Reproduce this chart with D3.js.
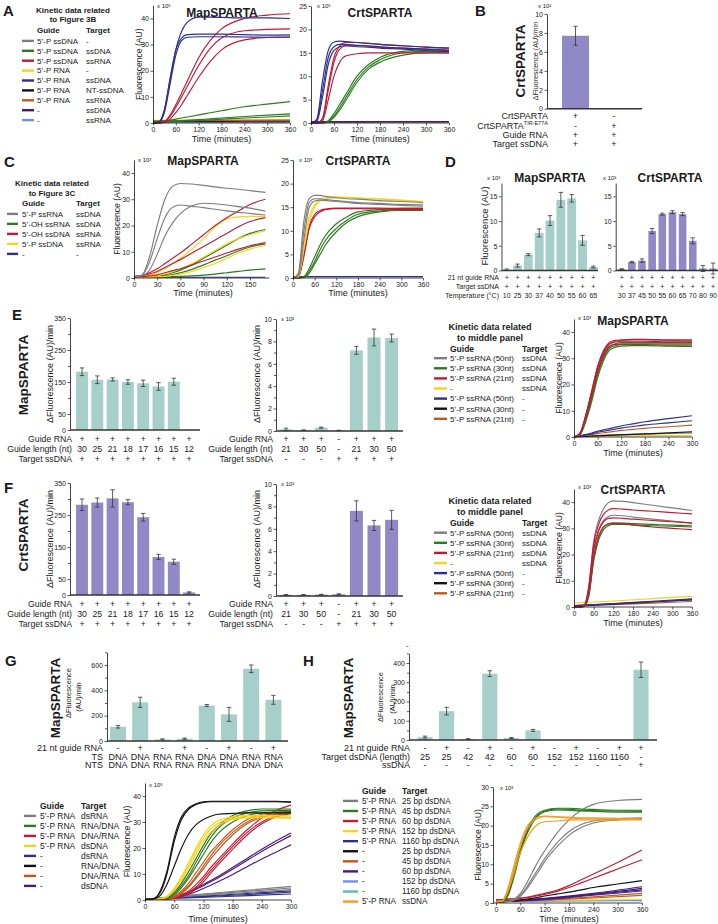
<!DOCTYPE html>
<html><head><meta charset="utf-8">
<script src="https://cdn.jsdelivr.net/npm/d3@7"></script>
<style>body{margin:0;background:#fff}svg{display:block}text{font-family:"Liberation Sans",Arial,Helvetica,sans-serif}</style>
</head><body><svg id="c" width="718" height="924"></svg>
<script>
// ---------------- DATA ----------------
// Panel A (kinetics, x10^3 AU)
const tA = [0,15,30,45,60,75,90,120,150,180,240,300,360];
const tBase = [0,120,240,360];
const aMapNavy = [[0,0.3,5,17,28,35,38.5,40.5,40.5,40.4,40.2,40.2,40],[0,0.3,5,17,28,32.5,33.8,34,34,34,33.8,33.6,33.7],[0,0.2,4,15,26,31.5,32.8,33,33,33,32.9,32.8,32.8]];
const aMapRed = [[0,0,0.5,3,7,11.5,16,25,31.5,36,40,41.3,41.8],[0,0,0.4,2.5,6,10,14,22,28.5,32.5,35.3,35.8,36],[0,0,0.3,1.5,4,7,10.5,17.5,23.5,28,31.8,32.7,33]];
const aMapGreen = [[0.3,0.5,0.8,1.1,1.5,1.9,2.3,3.1,3.9,4.7,6.2,7.2,8.2],[0.3,0.4,0.5,0.6,0.8,0.9,1.0,1.3,1.6,1.9,2.5,3.0,3.5],[0.3,0.35,0.4,0.5,0.6,0.7,0.8,1.0,1.2,1.5,1.9,2.3,2.7]];
const aMapGray = [[0.9,1.0,1.0,1.1]];
const aMapYellow = [[1.0,1.1,1.2,1.3]];
const aMapBlack = [[0.6,0.6,0.7,0.7]];
const aMapOrange = [[0.8,0.9,1.0,1.1]];
const aMapPurple = [[0.3,0.3,0.3,0.3]];
const aMapLblue = [[0.2,0.2,0.2,0.2]];
const aCrtNavy = [[0,0.8,9,15.5,17.3,17.5,17.4,17.2,17,16.8,16.5,16.2,16],[0,0.5,7,14,16.3,16.8,16.8,16.6,16.5,16.3,16,15.8,15.5],[0,0.3,5.5,12.5,15.5,16.3,16.5,16.3,16.2,16,15.8,15.5,15.3]];
const aCrtRed = [[0,0,1,8,14,16.5,17.2,17.2,17,16.8,16.5,16.2,16],[0,0,0.8,7,13,15.8,16.5,16.5,16.4,16.2,16,15.8,15.6],[0,0,0.5,5,10,13,14.3,14.8,15,15,15,15,15]];
const aCrtGreen = [[0,0,0,0.5,2,4,6,10,12.5,14,15.3,15.6,15.5],[0,0,0,0.3,1.5,3.3,5.3,9.3,12,13.5,15,15.3,15.2],[0,0,0,0.2,1.2,2.8,4.7,8.7,11.5,13,14.5,15,15]];
const aCrtPurple = [[0.3,0.3,0.3,0.3]];
const aCrtBase = [[0.1,0.1,0.2,0.2]];
// Panel B (x10^2 AU/min)
const bVals = [7.7, 0.05];
const bErrs = [1.0, 0];
// Panel C
const tC = [0,10,20,30,40,50,60,75,90,105,120,135,150,170];
const tBaseC = [0,60,120,170];
const cMapGray = [[0.5,1,8,20,30,35,36,35.8,35.3,34.7,34.2,33.8,33.3,32.6],[0.5,1,6,15,23,27,27.8,27.3,26.8,26.2,25.6,25,24.6,24],[0.5,0.8,3,9,16,21,24.5,27.5,28.5,28.3,27.8,27.2,26.6,25.5]];
const cMapRed = [[0.5,1,2,3.5,5.5,7.5,9.5,13,16.5,20,23,25.5,28,30],[0.5,0.8,1.5,2.5,4,5.5,7,9.5,12,14.5,17,19.5,21.5,23],[0.5,0.5,0.8,1.2,2,2.8,3.5,5,6.5,8,9.5,11,12.3,13.5]];
const cMapYellow = [[0.3,0.5,1,2,3.5,5.5,7.5,11,15,19.5,22.5,23.3,23.5,23.5],[0.3,0.3,0.5,0.8,1.5,2.5,3.5,5.5,8,10.5,13,15,16.5,18],[0.2,0.2,0.3,0.4,0.6,1,1.5,2.5,4,5.5,7.5,9.5,11,12.5]];
const cMapGreen = [[0.3,0.3,0.5,0.8,1.2,2,3,5,7.5,10,12.5,15,17,18.5],[0.2,0.3,0.4,0.6,0.9,1.3,2,3.3,5,6.8,8.5,10.3,11.8,13],[0.2,0.2,0.2,0.3,0.4,0.5,0.6,0.8,1.1,1.5,2,2.5,3,3.5]];
const cMapNavy = [[0.3,0.3,0.3,0.3]];
const cCrtGray = [[0,1,12,16.8,17.5,17.5,17.3,17,16.8,16.7,16.4,16.2,16],[0,0.8,10,16,16.8,16.8,16.6,16.4,16.2,16,15.8,15.6,15.5],[0,0.5,8,15,16.3,16.5,16.4,16.2,16,15.8,15.6,15.4,15.2]];
const cCrtYellow = [[0,0.3,7,13,15.5,16.7,17.1,17.2,17.1,17,16.8,16.5,16.2],[0,0.2,6,12,15,16.3,16.8,17,17,16.9,16.7,16.4,16.2]];
const cCrtRed = [[0,0.2,5,11,13.5,14.3,14.6,14.8,14.8,14.8,14.8,14.7,14.7],[0,0.2,4.5,10.5,13,14,14.5,14.7,14.7,14.7,14.6,14.5,14.5]];
const cCrtGreen = [[0,0,0.3,2,4.5,7,9,11.5,13,14,14.5,14.8,14.8],[0,0,0.2,1.5,3.5,6,8,10.5,12.3,13.5,14.2,14.5,14.6],[0,0,0.1,1,3,5,7,9.8,11.8,13,14,14.3,14.3]];
const cCrtNavy = [[0.3,0.3,0.3,0.3]];
// Panel D (x10^3 AU)
const dMapTemps = ["10","25","30","37","40","50","55","60","65"];
const dMapVals = [0.15,1.0,3.2,7.6,10.1,14.3,14.6,6.1,0.7];
const dMapErrs = [0.15,0.3,0.2,0.8,1.0,1.5,0.75,1.0,0.2];
const dCrtTemps = ["30","37","45","50","55","60","65","70","80","90"];
const dCrtVals = [0.25,1.7,2.0,8.0,11.4,11.8,11.4,6.0,0.4,0.4];
const dCrtErrs = [0.1,0.15,0.35,0.5,0.2,0.3,0.3,0.6,0.6,1.1];
// Panels E/F bar charts
const lenLeft = ["30","25","21","18","17","16","15","12"];
const eLeftVals = [182,157,158,150,146,136,151,0];
const eLeftErrs = [12,12,5,7,10,12,11,0];
const fLeftVals = [282,289,302,290,243,119,104,8];
const fLeftErrs = [18,14,27,8,12,8,8,2];
const midGuide = ["+","+","+","-","+","+","+"];
const midLen = ["21","30","50","-","21","30","50"];
const midTarget = ["-","-","-","+","+","+","+"];
const eMidVals = [0.15,0.07,0.3,0.05,7.2,8.35,8.3];
const eMidErrs = [0.1,0.03,0.05,0.02,0.35,0.75,0.35];
const fMidVals = [0.1,0.1,0.12,0.15,7.6,6.3,6.8];
const fMidErrs = [0.03,0.03,0.03,0.05,0.9,0.45,0.85];
// Panel E/F kinetics
const tE = [0,15,30,45,60,75,90,105,120,150,180,240,300];
const tE0 = [0,100,200,300];
const eRed = [[0,1.5,8.5,17.5,27,33,36,36.8,37,37.2,37.2,37,37],[0,1.3,8,17,26,32,35.3,36.2,36.5,36.5,36.5,36.3,36.3],[0,1.2,7.5,16,25,31,34.5,35.3,35.5,35.5,35.5,35.5,35.5]];
const eGreen = [[0,1,7,15,24.5,31,34.5,35.5,36,36,36,36,36],[0,0.9,6.5,14.5,23.5,30,33.8,34.8,35.2,35.2,35.2,35,35],[0,0.8,6,13.5,22.5,29,33,34.2,34.6,34.8,34.8,34.6,34.5]];
const eGray = [[0,1.4,8.2,17.2,26.5,32.5,35.6,36.5,36.8,37,37,36.8,36.6]];
const eNavy = [[0,0.5,1,1.5,2.2,2.7,3.2,3.7,4.2,5,5.8,7,8.1],[0,0.4,0.8,1.2,1.8,2.2,2.6,3,3.4,4,4.6,5.4,6.2]];
const eOrange = [[0,0.3,0.6,0.9,1.3,1.6,1.9,2.2,2.5,2.9,3.3,3.9,4.5]];
const eBlack = [[0,0.7,1.3,2]];
const eGrayBase = [[0.3,0.8,1.2,1.6]];
const eYellow = [[0.3,0.4,0.5,0.5]];
const tF = [0,15,30,45,60,75,90,105,120,150,180,240,300,360];
const fGray = [[0,0,0.5,8,25,33,37.5,39.8,40.5,40.3,39.8,38.8,37.8,36.8],[0,0,0.3,6.5,22,29.5,33,34.5,35,34.8,34.3,33.5,32.8,32]];
const fRed = [[0,0,0.5,7.5,24,31.5,35.3,37,37.5,37.3,37,36.5,36,35.5],[0,0,0.3,6,21.5,29,32.5,33.8,34,33.8,33.5,33,32.5,32],[0,0,0.2,5,19,27,30.5,31.7,32,31.8,31.3,30.5,30,29.5]];
const fGreen = [[0,0,0.2,4.5,18.5,26.5,30.5,31.7,32,32,31.8,31.5,31.2,31],[0,0,0.2,4,17.5,25.5,29.5,31,31.5,31.5,31.3,31,30.8,30.5]];
const fYellow = [[1.5,2.3,3.2,4.1]];
const fNavy = [[0.5,1.3,2.2,3.1],[0.4,1.1,1.9,2.8]];
const fBlack = [[0.5,1.2,2,2.7]];
const fOrange = [[0.3,0.9,1.5,2.1]];
// Panel G
const gGuide = ["-","+","-","+","-","+","-","+"];
const gTS = ["DNA","DNA","RNA","RNA","DNA","DNA","RNA","RNA"];
const gNTS = ["DNA","DNA","RNA","RNA","RNA","RNA","DNA","DNA"];
const gVals = [112,305,12,18,280,210,570,325];
const gErrs = [10,40,5,5,8,55,30,35];
const tG = [0,15,30,45,60,75,90,105,120,135,150,180,210,240,270,300];
const tG0 = [0,100,200,300];
const gBlack = [[0.3,0.4,3,11,24,32,35.5,37,37.8,38,38,38,38,38,38,37.8],[0.3,0.4,2.5,10,22.5,31,35,36.7,37.5,37.8,37.8,37.8,37.8,37.8,37.8,37.6],[0.3,0.3,1.5,6,13,20,25.5,29,31,32.2,33,33.3,33.5,33.5,33.5,33.5]];
const gYellow = [[0.3,0.3,0.5,1.5,4.5,9,14.5,20,25,28.5,30.5,32,32.5,32.5,32.5,32.3],[0.3,0.3,0.5,1.3,4,8.3,13.5,19,23.8,27.3,29.5,31.5,32,32,32,31.8],[0.3,0.3,0.4,1.1,3.5,7.5,12.5,17.8,22.5,26,28.5,31,31.6,31.6,31.6,31.5]];
const gGreen = [[0.3,0.3,0.4,1,3,6.5,11,16,21,25.5,28.5,32.5,34.3,35,35,35],[0.3,0.3,0.3,0.8,2.5,5.5,9.5,14.5,19.5,24,27.5,31.5,33.5,34.3,34.5,34.5],[0.3,0.3,0.3,0.7,2,4.8,8.5,13,17.5,22,25.5,30,32.5,33.5,33.8,34]];
const gOrange = [[0.3,0.3,0.3,0.5,1.5,3.5,6.5,10.5,14.5,18.5,21.5,27,31,33,33.8,34],[0.3,0.3,0.3,0.4,1.2,3,5.5,9,13,17,20.5,26,30,32.3,33.2,33.5],[0.3,0.3,0.3,0.4,1,2.5,5,8.3,12,15.8,19.2,25,29.3,31.8,33,33.3]];
const gRed = [[0.3,0.3,0.3,0.4,1,2,3.5,6,9,12.5,15.5,21.5,27,31.5,34.5,36.5],[0.3,0.3,0.3,0.3,0.8,1.6,3,5,8,11.3,14.5,20.5,26,30,32.5,34],[0.3,0.3,0.3,0.3,0.6,1.3,2.5,4.3,7,10.3,13.5,19.5,25,29.3,32,33.2]];
const gPurple = [[0.3,0.3,0.4,0.6,1.2,2,3,4.5,6,7.5,9,12.5,16,19.5,22.8,25.8],[0.3,0.3,0.4,0.6,1,1.8,2.8,4.1,5.5,7,8.5,11.8,15.3,18.7,21.8,24.8],[0.3,0.3,0.35,0.5,0.8,1.4,2.2,3.2,4.4,5.7,7,9.8,12.8,15.8,18.5,21.2]];
const gGray = [[0.3,2,3.6,5.2],[0.3,1.8,3.2,4.6],[0.3,1.6,2.8,4]];
const gNavy = [[0.3,1.3,2.4,3.5],[0.3,1.1,2,3],[0.3,0.9,1.6,2.3]];
// Panel H
const hGuide = ["-","+","-","+","-","+","-","+","-","+","+"];
const hLen = ["25","25","42","42","60","60","152","152","1160","1160","-"];
const hSs = ["-","-","-","-","-","-","-","-","-","-","+"];
const hVals = [15,150,5,345,10,50,0,0,0,0,365];
const hErrs = [5,20,2,15,3,5,0,0,0,0,40];
const tH = [0,15,30,45,60,75,90,105,120,150,180,210,240,300,360];
const hOrange = [[0.3,0.5,4,10,15.5,19.5,21.5,22.3,22.5,22.3,22.2,22,22,21.9,21.8],[0.3,0.4,3.5,9,14.5,18.8,21,22,22.3,22.2,22,21.8,21.8,21.7,21.6],[0.3,0.4,3,8,13,16.5,19,20.5,21,21.2,21.5,21.5,21.5,21.5,21.5]];
const hGreen = [[0.3,0.3,2.5,8,14,18.5,21.5,23.3,24,24.5,24.5,24.3,24.2,24,24],[0.3,0.3,2.2,7.5,13.5,18,21,23,23.8,24.3,24.2,24,23.9,23.8,23.7],[0.3,0.3,2,7,13,17.5,20.7,22.7,23.6,24.1,24,23.8,23.7,23.5,23.5]];
const hGray = [[0.3,0.3,0.5,1,2.5,5,8,11,13.5,18,21.5,24,25.5,26.5,26.8],[0.3,0.3,0.4,0.8,2,4,6.5,9,11.5,15.5,18.5,20.3,21.2,21.8,22],[0.3,0.3,0.4,0.7,1.7,3.5,5.8,8.2,10.7,14.5,17.5,19.5,20.7,21.5,21.8]];
const hRed = [[0.8,0.9,1,1.1,1.3,1.5,1.8,2.1,2.5,3.3,4.5,6,7.5,10.5,13.7],[0.8,0.9,1,1.1,1.2,1.4,1.6,1.9,2.2,3,4,5.2,6.4,8.8,11.2]];
const hBlack = [[0.3,0.4,0.5,0.6,0.8,1,1.2,1.5,1.8,2.3,2.8,3.4,4,4.9,5.8]];
const hPurple = [[0.3,1.2,2.5,4.2],[0.3,1.1,2.3,3.8]];
const hNavy = [[0.3,1,2.2,3.4],[0.3,0.9,2,3.1]];
const hBrown = [[0.3,0.8,1.6,2.5],[0.3,0.7,1.3,2]];
const hYellow = [[0.6,0.7,0.8,0.9]];
const hLblue = [[0.5,0.5,0.6,0.6]];
const hTeal = [[0.6,0.6,0.6,0.7]];
// Legend texts
const legAGuide = ["5’-P ssDNA","5’-P ssDNA","5’-P ssDNA","5’-P RNA","5’-P RNA","5’-P RNA","5’-P RNA","-","-"];
const legATarget = ["-","ssDNA","ssRNA","-","ssDNA","NT-ssDNA","ssRNA","ssDNA","ssRNA"];
const legCGuide = ["5’-P ssRNA","5’-OH ssRNA","5’-OH ssDNA","5’-P ssDNA","-"];
const legCTarget = ["ssDNA","ssDNA","ssRNA","ssRNA","-"];
const legEGuide = ["5’-P ssRNA (50nt)","5’-P ssRNA (30nt)","5’-P ssRNA (21nt)","-","5’-P ssRNA (50nt)","5’-P ssRNA (30nt)","5’-P ssRNA (21nt)"];
const legETarget = ["ssDNA","ssDNA","ssDNA","ssDNA","-","-","-"];
const legGGuide = ["5’-P RNA","5’-P RNA","5’-P RNA","5’-P RNA","-","-","-","-"];
const legGTarget = ["dsRNA","RNA/DNA","DNA/RNA","dsDNA","dsRNA","RNA/DNA","DNA/RNA","dsDNA"];
const legHGuide = ["5’-P RNA","5’-P RNA","5’-P RNA","5’-P RNA","5’-P RNA","-","-","-","-","-","5’-P RNA"];
const legHTarget = ["25 bp dsDNA","45 bp dsDNA","60 bp dsDNA","152 bp dsDNA","1160 bp dsDNA","25 bp dsDNA","45 bp dsDNA","60 bp dsDNA","152 bp dsDNA","1160 bp dsDNA","ssDNA"];

// ---------------- STYLE ----------------
const C = {gray:"#7d7d7d",green:"#2b7a1f",red:"#c21a32",yellow:"#f4d414",navy:"#2c2f8e",black:"#111111",orange:"#c2571c",purple:"#4b1779",lblue:"#6d8ff2",teal:"#5fb7ad",lorange:"#f29a1e"};
const TEAL_BAR = "#a6cfca", PURP_BAR = "#9189c5";
const FONT = '"Liberation Sans",Arial,Helvetica,sans-serif';
const svg = d3.select("#c");

function T(x,y,s,o={}){
  const t = svg.append("text").attr("x",x).attr("y",y).text(s)
    .attr("font-size",o.fs||8).attr("font-weight",o.b?"bold":"normal")
    .attr("text-anchor",o.a||"start").attr("fill",o.c||"#1a1a1a");
  if(o.r) t.attr("transform",`rotate(${o.r},${x},${y})`);
  return t;
}
function vlab(xc,yc,s,fs,b){ return T(xc+fs*0.36,yc,s,{fs,b,a:"middle",r:-90}); }
function axStyle(a,fs){
  a.selectAll("text").attr("font-size",fs||7).attr("fill","#222").attr("font-family",FONT);
  a.select(".domain").attr("stroke","#111").attr("stroke-width",0.8);
  a.selectAll(".tick line").attr("stroke","#111").attr("stroke-width",0.7);
}
function lineChart(c){
  const x = d3.scaleLinear().domain(c.xd).range(c.xr);
  const y = d3.scaleLinear().domain(c.yd).range(c.yr);
  const g = svg.append("g");
  const ln = d3.line().curve(d3.curveMonotoneX);
  c.series.forEach(s=>s.reps.forEach(r=>{
    g.append("path").attr("d",ln(r.map((v,i)=>[x(s.t[i]),y(v)])))
      .attr("fill","none").attr("stroke",s.c).attr("stroke-width",1.15).attr("stroke-linejoin","round");
  }));
  const ax = c.ax ?? c.xr[0];
  const xa = g.append("g").attr("transform",`translate(0,${c.yr[0]})`)
    .call(d3.axisBottom(x).tickValues(c.xt).tickSize(2.5).tickSizeOuter(0).tickPadding(1.5));
  xa.select(".domain").attr("d",`M${ax},0H${c.xr[1]}`);
  const ya = g.append("g").attr("transform",`translate(${ax},0)`)
    .call(d3.axisLeft(y).tickValues(c.yt).tickSize(2.5).tickSizeOuter(0).tickPadding(1.5));
  axStyle(xa); axStyle(ya);
  if(c.title) T(c.tx,c.ty,c.title,{fs:12,b:true,a:"middle"});
  T(c.mx ?? ax+4, c.my ?? c.yr[1]+4, "x 10³", {fs:6});
  if(c.ylx!==undefined) vlab(c.ylx,(c.yr[0]+c.yr[1])/2,"Fluorescence (AU)",8.6);
  if(c.xly!==undefined) T((c.xr[0]+c.xr[1])/2,c.xly,"Time (minutes)",{fs:9,a:"middle"});
}
function barChart(c){
  const y = d3.scaleLinear().domain(c.yd).range([c.y0,c.ytop]);
  const n = c.vals.length;
  const xb = d3.scaleBand().domain(d3.range(n))
    .range([c.c0-c.step/2, c.c0-c.step/2+n*c.step])
    .paddingInner(1-c.frac).paddingOuter((1-c.frac)/2);
  const g = svg.append("g");
  g.selectAll("rect").data(c.vals).join("rect")
    .attr("x",(d,i)=>xb(i)).attr("width",xb.bandwidth())
    .attr("y",d=>y(d)).attr("height",d=>y(0)-y(d)).attr("fill",c.color);
  const cx = i=>xb(i)+xb.bandwidth()/2;
  c.errs.forEach((e,i)=>{
    if(!e) return;
    const v=c.vals[i], x0=cx(i);
    [[x0,x0,y(v-e),y(v+e)],[x0-2.2,x0+2.2,y(v+e),y(v+e)],[x0-2.2,x0+2.2,y(v-e),y(v-e)]].forEach(l=>
      g.append("line").attr("x1",l[0]).attr("x2",l[1]).attr("y1",l[2]).attr("y2",l[3]).attr("stroke","#333").attr("stroke-width",0.8));
  });
  const ya = g.append("g").attr("transform",`translate(${c.ax},0)`)
    .call(d3.axisLeft(y).tickValues(c.yticks).tickSize(2.5).tickSizeOuter(0).tickPadding(1.5).tickFormat(c.fmt||d3.format("d")));
  axStyle(ya);
  if(c.minor){
    const m = g.append("g").attr("transform",`translate(${c.ax},0)`)
      .call(d3.axisLeft(y).tickValues(c.minor).tickSize(2).tickFormat(""));
    m.select(".domain").remove(); m.selectAll("line").attr("stroke","#111").attr("stroke-width",0.7);
  }
  g.append("line").attr("x1",c.ax).attr("x2",c.x1).attr("y1",c.y0).attr("y2",c.y0).attr("stroke","#333").attr("stroke-width",1.5);
  return cx;
}
function rows(cx,xr,list,fs){
  list.forEach(([lab,yb,vals])=>{
    if(lab) T(xr,yb,lab,{fs,a:"end"});
    vals.forEach((v,i)=>T(cx(i),yb,v,{fs,a:"middle"}));
  });
}
function legend(o){
  o.guides.forEach((gd,i)=>{
    const yb=o.y0+i*o.dy;
    svg.append("line").attr("x1",o.l0).attr("x2",o.l1).attr("y1",yb-2.8).attr("y2",yb-2.8)
      .attr("stroke",o.colors[i]).attr("stroke-width",2.4);
    T(o.gx,yb,gd,{fs:o.fs}); T(o.tx,yb,o.targets[i],{fs:o.fs});
  });
}
const range = (a,b,s)=>d3.range(a,b+s/2,s);

// ---------------- PANEL LETTERS ----------------
[["A",3,16],["B",475,16],["C",4,167],["D",445,167],["E",12,320],["F",4,493],["G",5,666],["H",303,666]]
  .forEach(([s,x,y])=>T(x,y,s,{fs:15,b:true}));

// ---------------- PANEL A ----------------
T(73,12.5,"Kinetic data related",{fs:8,b:true,a:"middle"});
T(73,22,"to Figure 3B",{fs:8,b:true,a:"middle"});
T(37,32.7,"Guide",{fs:8,b:true}); T(86,32.7,"Target",{fs:8,b:true});
legend({guides:legAGuide,targets:legATarget,colors:[C.gray,C.green,C.red,C.yellow,C.navy,C.black,C.orange,C.purple,C.lblue],
  y0:43.7,dy:9.9,l0:22,l1:34,gx:37,tx:86,fs:8});
lineChart({xd:[0,360],xr:[153,290],yd:[0,45],yr:[123,5.4],xt:range(0,360,60),yt:[0,10,20,30,40],
  series:[{t:tBase,reps:aMapGray,c:C.gray},{t:tBase,reps:aMapYellow,c:C.yellow},{t:tBase,reps:aMapBlack,c:C.black},
    {t:tBase,reps:aMapOrange,c:C.orange},{t:tBase,reps:aMapPurple,c:C.purple},{t:tBase,reps:aMapLblue,c:C.lblue},
    {t:tA,reps:aMapGreen,c:C.green},{t:tA,reps:aMapRed,c:C.red},{t:tA,reps:aMapNavy,c:C.navy}],
  title:"MapSPARTA",tx:222,ty:17,ylx:139,xly:142,my:8});
lineChart({xd:[0,360],xr:[311,449],yd:[0,25],yr:[123,6],xt:range(0,360,60),yt:[0,5,10,15,20,25],
  series:[{t:tBase,reps:aCrtBase,c:C.gray},{t:tBase,reps:aCrtPurple,c:C.purple},
    {t:tA,reps:aCrtGreen,c:C.green},{t:tA,reps:aCrtRed,c:C.red},{t:tA,reps:aCrtNavy,c:C.navy}],
  title:"CrtSPARTA",tx:380,ty:17,xly:142,mx:317,my:8});

// ---------------- PANEL B ----------------
{
  const cx = barChart({yd:[0,10],y0:108.7,ytop:14,ax:547,x1:642,vals:bVals,errs:bErrs,c0:575.5,step:38.5,frac:0.7,
    color:PURP_BAR,yticks:[0,2,4,6,8,10]});
  T(538,8,"x 10²",{fs:6});
  vlab(520,61,"CrtSPARTA",13.5,true);
  vlab(535,61,"ΔFluorescence (AU)/min",7.2);
  rows(cx,548,[["CrtSPARTA",119,["+","-"]],["",128.5,["-","+"]],["Guide RNA",137.5,["+","+"]],["Target ssDNA",146.5,["+","+"]]],9);
  const t = T(548,128.5,"CrtSPARTA",{fs:9,a:"end"});
  t.append("tspan").attr("font-size",5.5).attr("dy",-3.5).text("TIR-E77A");
}

// ---------------- PANEL C ----------------
T(52,186,"Kinetic data related",{fs:8,b:true,a:"middle"});
T(52,196,"to Figure 3C",{fs:8,b:true,a:"middle"});
T(22,206,"Guide",{fs:8,b:true}); T(76,206,"Target",{fs:8,b:true});
legend({guides:legCGuide,targets:legCTarget,colors:[C.gray,C.green,C.red,C.yellow,C.navy],
  y0:216.7,dy:10,l0:7,l1:18,gx:22,tx:76,fs:8});
lineChart({xd:[0,175],xr:[134,269.3],yd:[0,45],yr:[278,159.9],xt:range(0,150,30),yt:[0,10,20,30,40],
  series:[{t:tBaseC,reps:cMapNavy,c:C.navy},{t:tC,reps:cMapGreen,c:C.green},{t:tC,reps:cMapYellow,c:C.yellow},
    {t:tC,reps:cMapRed,c:C.red},{t:tC,reps:cMapGray,c:C.gray}],
  title:"MapSPARTA",tx:203,ty:165,ylx:117,my:162});
T(203,296,"Time (minutes)",{fs:9,a:"middle"});
lineChart({xd:[0,360],xr:[293,423],yd:[0,25],yr:[278,160],xt:range(0,360,60),yt:[0,5,10,15,20,25],
  series:[{t:tBase,reps:cCrtNavy,c:C.navy},{t:tA,reps:cCrtGreen,c:C.green},{t:tA,reps:cCrtRed,c:C.red},
    {t:tA,reps:cCrtYellow,c:C.yellow},{t:tA,reps:cCrtGray,c:C.gray}],
  title:"CrtSPARTA",tx:358,ty:165,mx:299,my:162});
T(358,296,"Time (minutes)",{fs:9,a:"middle"});

// ---------------- PANEL D ----------------
{
  const cx1 = barChart({yd:[0,17.7],y0:270.5,ytop:183,ax:501.5,x1:598,vals:dMapVals,errs:dMapErrs,c0:506.7,step:10.83,frac:0.82,
    color:TEAL_BAR,yticks:[0,5,10,15]});
  T(550,182,"MapSPARTA",{fs:12,b:true,a:"middle"});
  T(487,180,"x 10³",{fs:6});
  vlab(485,226,"Fluorescence (AU)",9.5);
  rows(cx1,499,[["21 nt guide RNA",279.5,dMapTemps.map(()=>"+")],["Target ssDNA",288.5,dMapTemps.map(()=>"+")],["Temperature (°C)",297.5,dMapTemps]],7);
  const cx2 = barChart({yd:[0,17.7],y0:270.5,ytop:183,ax:615.7,x1:718,vals:dCrtVals,errs:dCrtErrs,c0:621.7,step:10.15,frac:0.75,
    color:PURP_BAR,yticks:[0,5,10,15]});
  T(670,182,"CrtSPARTA",{fs:12,b:true,a:"middle"});
  T(603,180,"x 10³",{fs:6});
  rows(cx2,0,[["",279.5,dCrtTemps.map(()=>"+")],["",288.5,dCrtTemps.map(()=>"+")],["",297.5,dCrtTemps]],7);
}

// ---------------- PANELS E & F ----------------
function leftMid(pfx){
  const isE = pfx==="E";
  const dy = isE?0:165;
  const color = isE?TEAL_BAR:PURP_BAR;
  vlab(23,375+dy-(isE?0:5),isE?"MapSPARTA":"CrtSPARTA",13.5,true);
  vlab(50,374+dy,"ΔFluorescence (AU)/min",9);
  const y0L = isE?430:595, y0M = isE?431:596;
  const cxL = barChart({yd:[0,350],y0:y0L,ytop:y0L-112,ax:70,x1:200,vals:isE?eLeftVals:fLeftVals,errs:isE?eLeftErrs:fLeftErrs,
    c0:82,step:15.3,frac:0.78,color,yticks:[0,50,150,250,350],minor:[100,200,300]});
  const rb = isE?442:606.5;
  rows(cxL,72,[["Guide RNA",rb,lenLeft.map(()=>"+")],["Guide length (nt)",rb+10,lenLeft],["Target ssDNA",rb+20,lenLeft.map(()=>"+")]],8.7);
  vlab(257,374+dy,"ΔFluorescence (AU)/min",9);
  const cxM = barChart({yd:[0,10],y0:y0M,ytop:y0M-112,ax:276,x1:403,vals:isE?eMidVals:fMidVals,errs:isE?eMidErrs:fMidErrs,
    c0:286,step:17.6,frac:0.74,color,yticks:[0,2,4,6,8,10],minor:[1,3,5,7,9]});
  T(281,y0M-110,"x 10²",{fs:6});
  rows(cxM,273,[["Guide RNA",rb,midGuide],["Guide length (nt)",rb+10,midLen],["Target ssDNA",rb+20,midTarget]],8.7);
  // legend
  const ly = isE?329.5:504;
  T(490,ly,"Kinetic data related",{fs:9,b:true,a:"middle"});
  T(490,ly+11,"to middle panel",{fs:9,b:true,a:"middle"});
  T(450,ly+22,"Guide",{fs:8.5,b:true}); T(522,ly+22,"Target",{fs:8.5,b:true});
  legend({guides:legEGuide,targets:legETarget,colors:[C.gray,C.green,C.red,C.yellow,C.navy,C.black,C.orange],
    y0:ly+31.5,dy:10.1,l0:434,l1:447,gx:450,tx:522,fs:8});
}
leftMid("E"); leftMid("F");
lineChart({xd:[0,300],xr:[574,692],yd:[0,45],yr:[437,318.9],xt:range(0,300,60),yt:[0,10,20,30,40],
  series:[{t:tE0,reps:eYellow,c:C.yellow},{t:tE0,reps:eGrayBase,c:C.gray},{t:tE0,reps:eBlack,c:C.black},
    {t:tE,reps:eOrange,c:C.orange},{t:tE,reps:eNavy,c:C.navy},{t:tE,reps:eGray,c:C.gray},{t:tE,reps:eGreen,c:C.green},{t:tE,reps:eRed,c:C.red}],
  title:"MapSPARTA",tx:633,ty:325,ylx:559,xly:456,my:320,mx:578});
lineChart({xd:[0,360],xr:[574,692],yd:[0,45],yr:[607,489],xt:range(0,360,60),yt:[0,10,20,30,40],
  series:[{t:tBase,reps:fOrange,c:C.orange},{t:tBase,reps:fBlack,c:C.black},{t:tBase,reps:fNavy,c:C.navy},{t:tBase,reps:fYellow,c:C.yellow},
    {t:tF,reps:fGreen,c:C.green},{t:tF,reps:fGray,c:C.gray},{t:tF,reps:fRed,c:C.red}],
  title:"CrtSPARTA",tx:633,ty:494,ylx:559,xly:626,my:489,mx:578});

// ---------------- PANEL G ----------------
{
  vlab(55,698,"MapSPARTA",13.5,true);
  vlab(68,693,"ΔFluorescence",7.5);
  vlab(78,697,"(AU)/min",7.5);
  const cx = barChart({yd:[0,700],y0:741,ytop:652.3,ax:107,x1:288,vals:gVals,errs:gErrs,c0:118,step:22.2,frac:0.72,
    color:TEAL_BAR,yticks:[0,200,400,600],minor:[100,300,500,700]});
  rows(cx,103,[["21 nt guide RNA",751,gGuide],["TS",759.5,gTS],["NTS",768,gNTS]],9);
  T(40,808.5,"Guide",{fs:8.5,b:true}); T(81,808.5,"Target",{fs:8.5,b:true});
  legend({guides:legGGuide,targets:legGTarget,colors:[C.gray,C.green,C.red,C.yellow,C.navy,C.black,C.orange,C.purple],
    y0:818.7,dy:10,l0:24,l1:36,gx:40,tx:81,fs:8.5});
  lineChart({xd:[0,300],xr:[145,291],yd:[0,45],yr:[900,783],xt:range(0,300,60),yt:[0,10,20,30,40],
    series:[{t:tG0,reps:gNavy,c:C.navy},{t:tG0,reps:gGray,c:C.gray},{t:tG,reps:gPurple,c:C.purple},{t:tG,reps:gRed,c:C.red},
      {t:tG,reps:gOrange,c:C.orange},{t:tG,reps:gGreen,c:C.green},{t:tG,reps:gYellow,c:C.yellow},{t:tG,reps:gBlack,c:C.black}],
    ylx:127,xly:921.5,my:787});
}

// ---------------- PANEL H ----------------
{
  vlab(348,698,"MapSPARTA",13.5,true);
  vlab(380,697,"ΔFluorescence",7.5);
  vlab(392,699,"(AU)/min",7.5);
  const cx = barChart({yd:[0,450],y0:740,ytop:653.4,ax:409,x1:657,vals:hVals,errs:hErrs,c0:425,step:21.6,frac:0.7,
    color:TEAL_BAR,yticks:[0,100,200,300,400],minor:[50,150,250,350,450]});
  T(406,648,"-",{fs:8});
  rows(cx,410,[["21 nt guide RNA",751,hGuide],["Target dsDNA (length)",759.5,hLen],["ssDNA",768,hSs]],9);
  T(362,794,"Guide",{fs:8.5,b:true}); T(402,794,"Target",{fs:8.5,b:true});
  legend({guides:legHGuide,targets:legHTarget,colors:[C.gray,C.green,C.red,C.yellow,C.navy,C.black,C.orange,C.purple,C.lblue,C.teal,C.lorange],
    y0:803.7,dy:10.07,l0:343,l1:358,gx:362,tx:402,fs:8.2});
  lineChart({xd:[0,360],xr:[496,642],ax:493,yd:[0,30],yr:[903,787],xt:range(0,360,60),yt:[0,5,10,15,20,25,30],
    series:[{t:tBase,reps:hTeal,c:C.teal},{t:tBase,reps:hLblue,c:C.lblue},{t:tBase,reps:hYellow,c:C.yellow},{t:tBase,reps:hBrown,c:C.orange},
      {t:tBase,reps:hNavy,c:C.navy},{t:tBase,reps:hPurple,c:C.purple},{t:tH,reps:hBlack,c:C.black},{t:tH,reps:hRed,c:C.red},
      {t:tH,reps:hGray,c:C.gray},{t:tH,reps:hGreen,c:C.green},{t:tH,reps:hOrange,c:C.lorange}],
    ylx:478,xly:921.5,mx:500,my:790});
}
</script></body></html>
